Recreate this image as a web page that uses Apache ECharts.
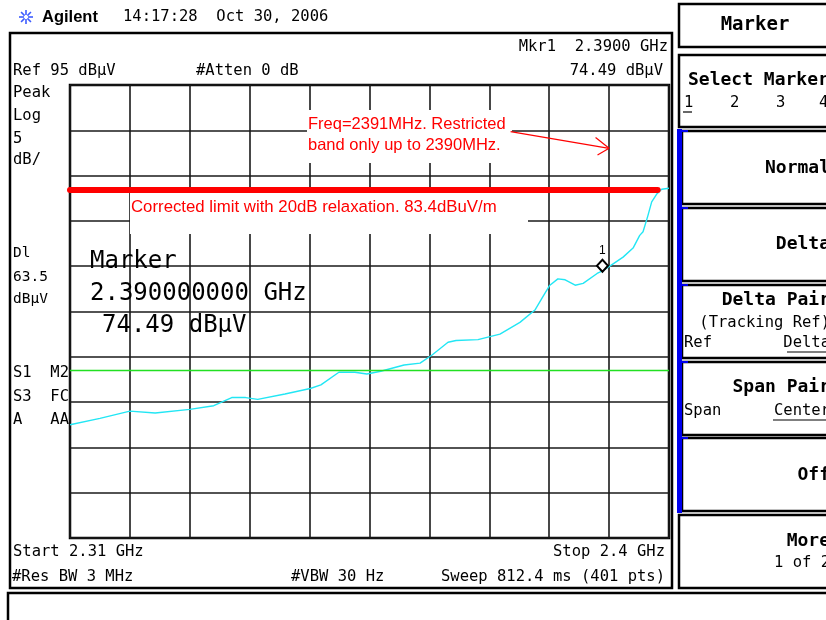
<!DOCTYPE html>
<html>
<head>
<meta charset="utf-8">
<title>Agilent spectrum - Marker</title>
<script src="https://cdn.jsdelivr.net/npm/echarts@6/dist/echarts.min.js"></script>
<style>
  html, body { margin: 0; padding: 0; background: #fff; }
  #chart { width: 826px; height: 620px; }
</style>
</head>
<body>
<div id="chart"></div>
<script>
// Sweep 2.31 - 2.40 GHz, peak detector, level in dBµV
const freqGHz = [2.3100, 2.3145, 2.3190, 2.3228, 2.3280, 2.3316, 2.3343, 2.3364, 2.3382, 2.3423,
                 2.3461, 2.3477, 2.3504, 2.3528, 2.3546, 2.3567, 2.3602, 2.3626, 2.3644, 2.3668,
                 2.3680, 2.3713, 2.3746, 2.3776, 2.3799, 2.3811, 2.3821, 2.3833, 2.3844, 2.3859,
                 2.3871, 2.3892, 2.3900, 2.3911, 2.3931, 2.3946, 2.3956, 2.3961, 2.3968, 2.3974,
                 2.3982, 2.3989, 2.4000];
const levelDbuV = [57.5, 58.2, 59.0, 58.8, 59.2, 59.6, 60.5, 60.5, 60.3, 60.9,
                   61.5, 61.9, 63.3, 63.3, 63.1, 63.4, 64.1, 64.3, 65.2, 66.6,
                   66.8, 66.9, 67.5, 68.8, 70.2, 71.7, 72.9, 73.6, 73.5, 72.9,
                   73.1, 74.2, 74.49, 75.0, 76.0, 77.0, 78.4, 78.8, 80.5, 82.1,
                   83.0, 83.5, 83.6];

// Instrument settings
const startGHz = 2.31, stopGHz = 2.40;
const refLevel = 95, dbPerDiv = 5, divisions = 10;
const displayLine = 63.5;
const marker1 = [2.39, 74.49];

// Hand-drawn limit annotation
const limitLevel = 83.4;
const limitSpan = [2.31, 2.3983];
const arrowShaft = [[2.3762, 89.85], [2.3910, 88.01]];
const arrowWing1 = [[2.38897, 89.2], [2.3910, 88.01]];
const arrowWing2 = [[2.38926, 87.27], [2.3910, 88.01]];

const MONO = '"DejaVu Sans Mono", "Liberation Mono", monospace';
const SANS = '"Liberation Sans", Arial, sans-serif';

const els = [];
function txt(x, y, s, font, align, color, z) {
  els.push({ type: 'text', x: x, y: y, z: z || 10,
    style: { text: s, font: font, fill: color || '#000', align: align || 'left', verticalAlign: 'middle' } });
}
function box(x, y, w, h, lw, fill, z) {
  els.push({ type: 'rect', z: z || 1, shape: { x: x, y: y, width: w, height: h },
    style: { fill: fill || 'none', stroke: lw ? '#000' : 'none', lineWidth: lw || 0 } });
}
function seg(x1, y1, x2, y2, color, lw, z) {
  els.push({ type: 'line', z: z || 5, shape: { x1: x1, y1: y1, x2: x2, y2: y2 },
    style: { stroke: color, lineWidth: lw } });
}

// header: logo + date
const lx = 26, ly = 17;
for (let a = 0; a < 8; a++) {
  const ang = a * Math.PI / 4;
  seg(lx + Math.cos(ang) * 2, ly + Math.sin(ang) * 2, lx + Math.cos(ang) * 7, ly + Math.sin(ang) * 7, '#3d5cff', 1.6, 5);
}
txt(42, 17, 'Agilent', 'bold 16.5px ' + SANS);
txt(123, 17, '14:17:28  Oct 30, 2006', '15.5px ' + MONO);

// main display frame
box(10, 33, 662, 555, 2.5);
txt(668, 47, 'Mkr1  2.3900 GHz', '15.5px ' + MONO, 'right');
txt(13, 71, 'Ref 95 dBµV', '15.5px ' + MONO);
txt(196, 71, '#Atten 0 dB', '15.5px ' + MONO);
txt(663, 71, '74.49 dBµV', '15.5px ' + MONO, 'right');

txt(13, 93, 'Peak', '15.5px ' + MONO);
txt(13, 116, 'Log', '15.5px ' + MONO);
txt(13, 139, '5', '15.5px ' + MONO);
txt(13, 160, 'dB/', '15.5px ' + MONO);
txt(13, 253, 'Dl', '14.5px ' + MONO);
txt(13, 277, '63.5', '14.5px ' + MONO);
txt(13, 299, 'dBµV', '14.5px ' + MONO);
txt(13, 373, 'S1  M2', '15.5px ' + MONO);
txt(13, 397, 'S3  FC', '15.5px ' + MONO);
txt(13, 420, 'A   AA', '15.5px ' + MONO);

txt(13, 552, 'Start 2.31 GHz', '15.5px ' + MONO);
txt(665, 552, 'Stop 2.4 GHz', '15.5px ' + MONO, 'right');
txt(12, 577, '#Res BW 3 MHz', '15.5px ' + MONO);
txt(291, 577, '#VBW 30 Hz', '15.5px ' + MONO);
txt(665, 577, 'Sweep 812.4 ms (401 pts)', '15.5px ' + MONO, 'right');

// marker readout inside the graticule
txt(90, 262, 'Marker', '24px ' + MONO);
txt(90, 294, '2.390000000 GHz', '24px ' + MONO);
txt(102, 326, '74.49 dBµV', '24px ' + MONO);

// annotation texts (white backing erases the graticule underneath)
box(307, 110, 205, 53, 0, '#fff', 1);
box(130, 193, 398, 41, 0, '#fff', 1);
txt(308, 124, 'Freq=2391MHz. Restricted', '16.5px ' + SANS, 'left', '#ff0000');
txt(308, 145, 'band only up to 2390MHz.', '16.5px ' + SANS, 'left', '#ff0000');
txt(131, 207, 'Corrected limit with 20dB relaxation. 83.4dBuV/m', '16.8px ' + SANS, 'left', '#ff0000');

// bottom message box
box(8, 593, 830, 40, 2.5);

// softkey panel
const KEY = 'bold 18px ' + MONO;
const KEYR = '15.5px ' + MONO;
box(679, 4, 160, 43, 2.5);
txt(755, 25, 'Marker', 'bold 19px ' + MONO, 'center');
box(679, 55, 160, 72, 2.5);
txt(688, 80, 'Select Marker', KEY);
txt(684, 103, '1', KEYR); txt(730, 103, '2', KEYR); txt(776, 103, '3', KEYR); txt(819, 103, '4', KEYR);
seg(683, 112, 692, 112, '#000', 1.2);

const keyTops = [131, 208, 285, 362, 438];
keyTops.forEach(function (t) { box(682, t, 160, 73, 2.5); seg(677, t, 688, t, '#0000ee', 2, 6); });
els.push({ type: 'rect', z: 6, shape: { x: 677, y: 129, width: 5, height: 384 }, style: { fill: '#0000ee' } });
txt(830, 168, 'Normal', KEY, 'right');
txt(830, 244, 'Delta', KEY, 'right');
txt(830, 300, 'Delta Pair', KEY, 'right');
txt(830, 323, '(Tracking Ref)', KEYR, 'right');
txt(684, 343, 'Ref', KEYR);
txt(830, 343, 'Delta', KEYR, 'right');
seg(787, 352, 830, 352, '#000', 1.2);
txt(830, 387, 'Span Pair', KEY, 'right');
txt(684, 411, 'Span', KEYR);
txt(830, 411, 'Center', KEYR, 'right');
seg(773, 420, 830, 420, '#000', 1.2);
txt(830, 475, 'Off', KEY, 'right');
box(679, 515, 160, 73, 2.5);
txt(830, 541, 'More', KEY, 'right');
txt(830, 563, '1 of 2', KEYR, 'right');

const gridLine = { color: '#1a1a1a', width: 1.6 };
const trace = freqGHz.map(function (f, i) { return [f, levelDbuV[i]]; });

const chart = echarts.init(document.getElementById('chart'), null, { renderer: 'canvas' });
chart.setOption({
  animation: false,
  backgroundColor: '#fff',
  grid: { left: 70, top: 85, width: 599, height: 453, show: true, borderColor: '#000', borderWidth: 2.5, backgroundColor: 'transparent' },
  xAxis: [
    { type: 'value', min: startGHz, max: stopGHz, show: false },
    { type: 'value', min: 0, max: divisions, interval: 1, position: 'bottom',
      axisLine: { show: false }, axisTick: { show: false }, axisLabel: { show: false },
      splitLine: { show: true, lineStyle: gridLine } }
  ],
  yAxis: {
    type: 'value', min: refLevel - dbPerDiv * divisions, max: refLevel, interval: dbPerDiv,
    axisLine: { show: false }, axisTick: { show: false }, axisLabel: { show: false },
    splitLine: { show: true, lineStyle: gridLine }
  },
  series: [
    {
      name: 'Trace A', type: 'line', xAxisIndex: 0, data: trace, showSymbol: false, symbol: 'none',
      lineStyle: { color: '#22e6f4', width: 1.4 }, z: 4, silent: true,
      markLine: {
        silent: true, symbol: 'none', label: { show: false },
        lineStyle: { color: '#22e022', width: 1.4, type: 'solid' },
        data: [{ yAxis: displayLine }]
      },
      markPoint: {
        silent: true, symbol: 'diamond', symbolSize: [11, 12], symbolOffset: [0, -5],
        itemStyle: { color: '#fff', borderColor: '#000', borderWidth: 2 },
        label: { show: true, position: 'top', distance: 2, formatter: '1', color: '#000', font: '13.5px ' + MONO },
        data: [{ coord: marker1 }]
      }
    },
    {
      name: 'Limit', type: 'line', xAxisIndex: 0, clip: false, symbol: 'none', silent: true, z: 6,
      data: [[limitSpan[0], limitLevel], [limitSpan[1], limitLevel]],
      lineStyle: { color: '#ff0000', width: 6, cap: 'round' },
      markLine: {
        silent: true, symbol: 'none', label: { show: false },
        lineStyle: { color: '#ff0000', width: 1.2, type: 'solid' },
        data: [arrowShaft, arrowWing1, arrowWing2].map(function (p) {
          return [{ coord: p[0] }, { coord: p[1] }];
        })
      }
    }
  ],
  graphic: { elements: els }
});
</script>
</body>
</html>
